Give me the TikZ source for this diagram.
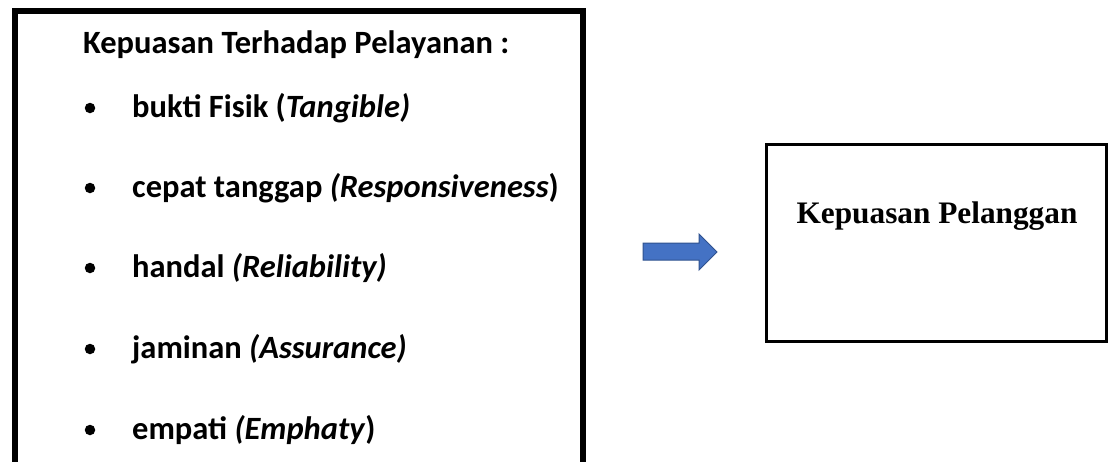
\documentclass[tikz,border=0pt]{standalone}
\usepackage{fontspec}
\setmainfont{Carlito}
\newfontfamily\tnrfont{Liberation Serif}
\definecolor{arrowfill}{HTML}{4472C4}
\definecolor{arrowline}{HTML}{2F528F}
\begin{document}
\begin{tikzpicture}[x=1pt,y=-1pt,
  txt/.style={anchor=base west, inner sep=0pt, font=\fontsize{32.5}{39}\selectfont\bfseries},
  bul/.style={circle, fill=black, inner sep=0pt, minimum size=10.5pt},
  leftbox/.style={draw=black, line width=6pt},
  rightbox/.style={draw=black, line width=3pt},
  bigarrow/.style={fill=arrowfill, draw=arrowline, line width=1pt, line join=miter}]
\useasboundingbox (0,0) rectangle (1112,461);
\clip (0,0) rectangle (1112,461);
\fill[white] (0,0) rectangle (1112,461);
% left box
\node[leftbox, minimum width=568pt, minimum height=454pt, inner sep=0pt, anchor=north west] (lbox) at (12,8) {};
\node[txt] (head) at (83,53) {Kepuasan Terhadap Pelayanan :};
\node[bul] (b1) at (90,108) {};
\node[txt] (t1) at (132,117) {bukti Fisik (\textit{Tangible)}};
\node[bul] (b2) at (90,188) {};
\node[txt] (t2) at (132,197) {cepat tanggap \textit{(Responsiveness}\/)};
\node[bul] (b3) at (90,268) {};
\node[txt] (t3) at (132,277) {handal \textit{(Reliability)}};
\node[bul] (b4) at (90,349) {};
\node[txt] (t4) at (132,358) {jaminan \textit{(Assurance)}};
\node[bul] (b5) at (90,430) {};
\node[txt] (t5) at (132,439) {empati \textit{(Emphaty}\/)};
% arrow
\draw[bigarrow] (643,243) -- (699,243) -- (699,234) -- (717,252) -- (699,270) -- (699,260) -- (643,260) -- cycle;
% right box
\node[rightbox, minimum width=340pt, minimum height=197pt, inner sep=0pt, anchor=north west] (rbox) at (765,143) {};
\node[anchor=base, inner sep=0pt, font=\tnrfont\bfseries\fontsize{31.3}{38}\selectfont] (rtxt) at (937,223) {Kepuasan Pelanggan};
\end{tikzpicture}
\end{document}
